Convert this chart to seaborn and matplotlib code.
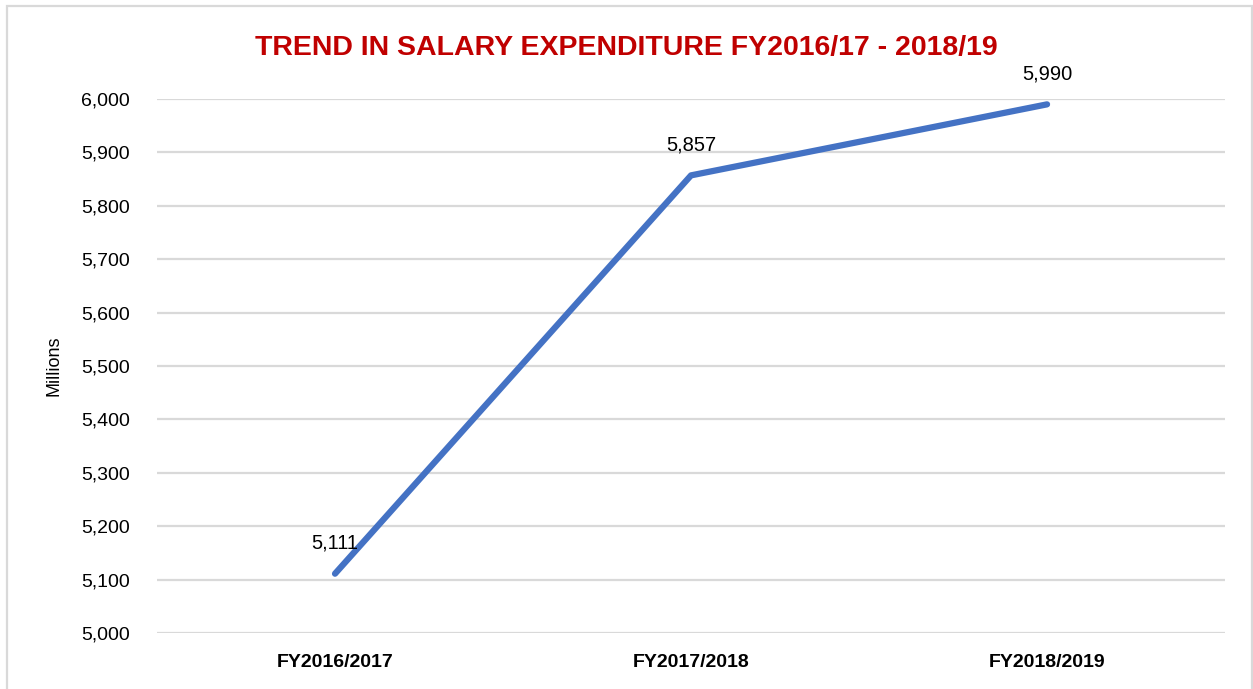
import matplotlib
matplotlib.use("Agg")
import matplotlib.pyplot as plt
from matplotlib import font_manager
from matplotlib.patches import Rectangle
import pandas as pd
import seaborn as sns

# Salary expenditure (millions)
years = ['FY2016/2017', 'FY2017/2018', 'FY2018/2019']
salary = [5111, 5857, 5990]
y_ticks = list(range(5000, 6001, 100))

df = pd.DataFrame({'Year': years, 'Salary': salary})

sns.set_theme(style='white')
names = {f.name for f in font_manager.fontManager.ttflist}
narrow = 'Liberation Sans Narrow' if 'Liberation Sans Narrow' in names else 'Liberation Sans'
plt.rcParams['font.family'] = ['Liberation Sans', 'DejaVu Sans']

fig = plt.figure(figsize=(12.53, 6.89), dpi=100)
ax = fig.add_axes([0.1253, 0.0813, 0.8524, 0.775])

sns.lineplot(data=df, x='Year', y='Salary', sort=False, color='#4472C4',
             linewidth=4.5, solid_capstyle='round', solid_joinstyle='round', ax=ax)

for x, y in zip(years, salary):
    ax.annotate(f'{y:,}', (x, y), xytext=(0, 22), textcoords='offset points',
                ha='center', va='center', fontsize=14.5, color='black')

ax.set_xlim(-0.5, 2.5)
ax.set_ylim(5000, 6000)
ax.set_yticks(y_ticks)
ax.set_yticklabels([f'{v:,}' for v in y_ticks], fontsize=14)
ax.set_xticks(range(len(years)))
ax.set_xticklabels(years, fontsize=14, fontweight='bold', family=narrow)
ax.tick_params(axis='y', length=0, pad=19.5, colors='black')
ax.tick_params(axis='x', length=0, pad=15, colors='black')
ax.yaxis.grid(True, color='#d9d9d9', linewidth=1.6)
ax.set_axisbelow(True)
for s in ax.spines.values():
    s.set_visible(False)
ax.set_xlabel('')
ax.set_ylabel('Millions', fontsize=13, labelpad=13, color='black')

fig.text(0.5, 0.93, 'TREND IN SALARY EXPENDITURE FY2016/17 - 2018/19',
         ha='center', va='center', fontsize=20.5, fontweight='bold',
         color='#C00000', family=narrow)

# light frame around the chart
fig.add_artist(Rectangle((7 / 1253, -0.05), 1245 / 1253, 1 - 6 / 689 + 0.05,
                         transform=fig.transFigure, fill=False,
                         edgecolor='#d9d9d9', linewidth=1.6))

fig.savefig('out.png', dpi=100)
